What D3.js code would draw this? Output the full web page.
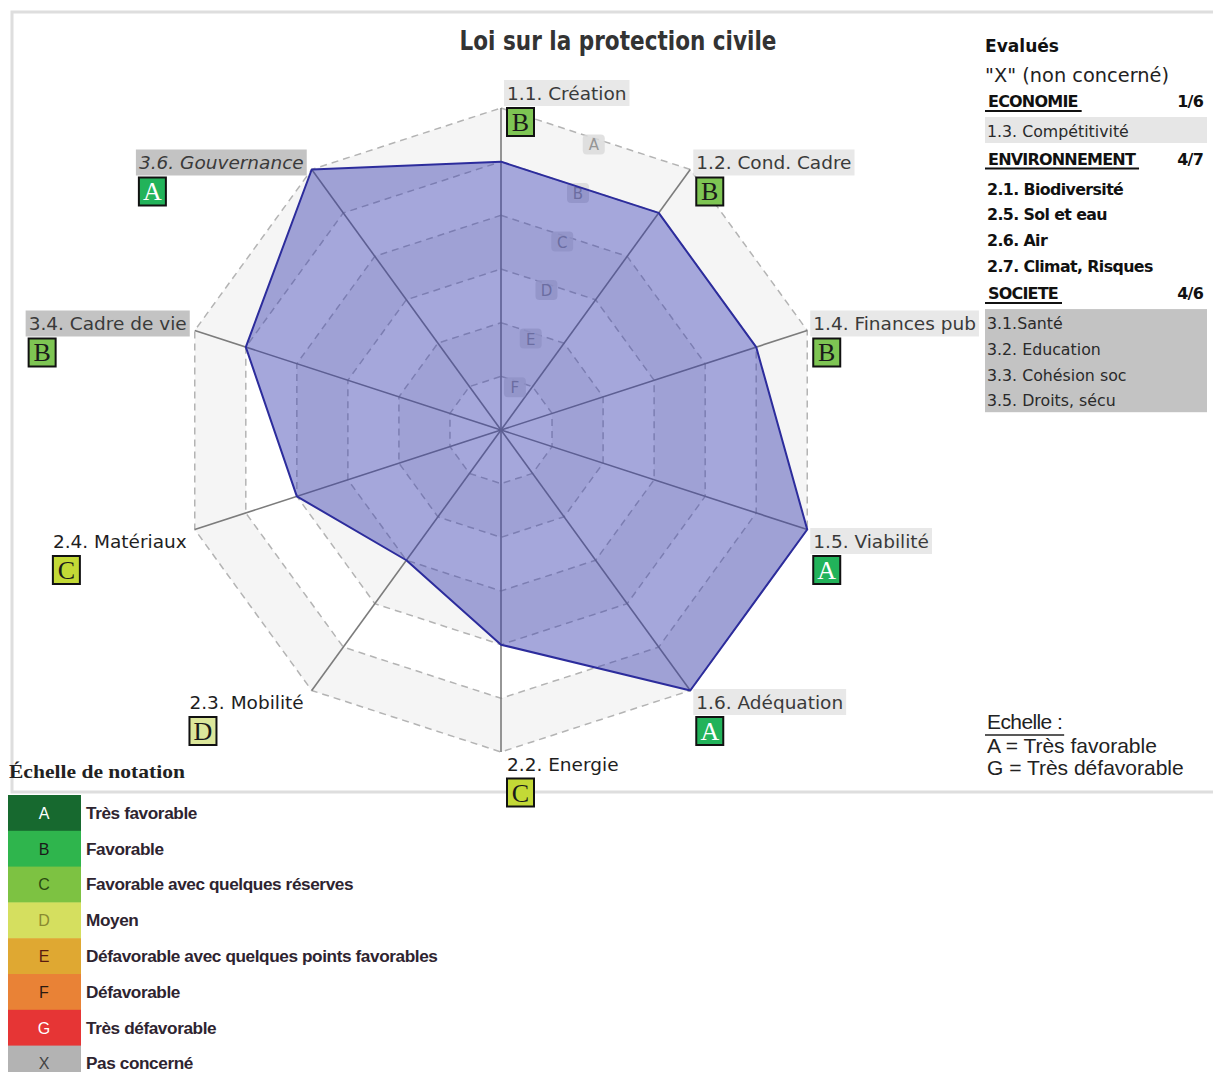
<!DOCTYPE html>
<html lang="fr">
<head>
<meta charset="utf-8">
<title>Loi sur la protection civile</title>
<script src="https://cdn.jsdelivr.net/npm/d3@7"></script>
<style>
  html, body { margin: 0; padding: 0; background: #fff; }
  svg { display: block; }
</style>
</head>
<body>
<svg id="chart" width="1213" height="1072"></svg>
<script>
// ---- data ----
const chartTitle = "Loi sur la protection civile";
const axes = ["1.1. Création", "1.2. Cond. Cadre", "1.4. Finances pub", "1.5. Viabilité",
              "1.6. Adéquation", "2.2. Energie", "2.3. Mobilité", "2.4. Matériaux",
              "3.4. Cadre de vie", "3.6. Gouvernance"];
const grades = ["B", "B", "B", "A", "A", "C", "D", "C", "B", "A"];
const levels = ["G", "F", "E", "D", "C", "B", "A"];          // index = score
const gradeColors = { A: "#22b35a", B: "#7ec553", C: "#c3d936", D: "#dce79b" };
const gradeTextColors = { A: "#ffffff", B: "#1a1a1a", C: "#1a1a1a", D: "#1a1a1a" };

const panelHeader = "Evalués";
const panelNote = "\"X\" (non concerné)";
const sections = ["ECONOMIE", "ENVIRONNEMENT", "SOCIETE"];
const sectionCounts = ["1/6", "4/7", "4/6"];
const sectionItems = [
  ["1.3. Compétitivité"],
  ["2.1. Biodiversité", "2.5. Sol et eau", "2.6. Air", "2.7. Climat, Risques"],
  ["3.1.Santé", "3.2. Education", "3.3. Cohésion soc", "3.5. Droits, sécu"]
];
const scaleTitle = "Echelle :";
const scaleLines = ["A = Très favorable", "G = Très défavorable"];

const legendTitle = "Échelle de notation";
const legendCodes = ["A", "B", "C", "D", "E", "F", "G", "X"];
const legendLabels = ["Très favorable", "Favorable", "Favorable avec quelques réserves", "Moyen",
                      "Défavorable avec quelques points favorables", "Défavorable",
                      "Très défavorable", "Pas concerné"];
const legendColors = ["#17692f", "#2fb54d", "#7dc242", "#d5df5f", "#dfa832", "#e98236", "#e63535", "#b3b3b3"];
const legendTextColors = ["#ffffff", "#1a1a1a", "#2a4a10", "#8a8a30", "#5a1a10", "#2a1a10", "#ffffff", "#444444"];

// background of labels by theme (1 = économie, 2 = environnement, 3 = société)
const themeFill = { "1": "#e8e8e8", "2": "none", "3": "#c3c3c3" };

// ---- layout ----
const svg = d3.select("#chart");
const cx = 501, cy = 430, R = 322;
const n = axes.length;
const r = d3.scaleLinear().domain([0, levels.length - 1]).range([0, R]);
const angle = d3.scaleLinear().domain([0, n]).range([0, 2 * Math.PI]);
const pt = (i, v) => [cx + r(v) * Math.sin(angle(i)), cy - r(v) * Math.cos(angle(i))];
const score = g => levels.indexOf(g);

// frame
const frame = svg.append("g").attr("stroke", "#dedede").attr("stroke-width", 3).attr("fill", "none");
frame.append("path").attr("d", "M1213,12 H12 V792 H1213");

// title
svg.append("text")
  .attr("x", 618).attr("y", 50)
  .attr("text-anchor", "middle")
  .attr("font-family", "DejaVu Sans, sans-serif")
  .attr("font-weight", "bold").attr("font-size", 27)
  .attr("fill", "#333")
  .attr("textLength", 317).attr("lengthAdjust", "spacingAndGlyphs")
  .text(chartTitle);

// ---- radar grid ----
const grid = svg.append("g");
const ringLevels = d3.range(levels.length - 1, 0, -1);   // 6 .. 1
const ringPath = k => "M" + d3.range(n).map(i => pt(i, k).join(",")).join("L") + "Z";

grid.selectAll("path.band").data(ringLevels).join("path")
  .attr("class", "band")
  .attr("d", ringPath)
  .attr("fill", k => (k % 2 === 0 ? "#f5f5f5" : "#ffffff"));

grid.selectAll("path.ring").data(ringLevels).join("path")
  .attr("class", "ring")
  .attr("d", ringPath)
  .attr("fill", "none")
  .attr("stroke", "#b4b4b4").attr("stroke-width", 1.5)
  .attr("stroke-dasharray", "7,5");

grid.selectAll("line.spoke").data(d3.range(n)).join("line")
  .attr("class", "spoke")
  .attr("x1", cx).attr("y1", cy)
  .attr("x2", i => pt(i, levels.length - 1)[0])
  .attr("y2", i => pt(i, levels.length - 1)[1])
  .attr("stroke", "#7c7c7c").attr("stroke-width", 1.6);

// ring letters, placed along the bisector of the first sector
const bis = Math.PI / n;
const ringLabels = grid.selectAll("g.rl").data(ringLevels).join("g")
  .attr("class", "rl")
  .attr("transform", k => {
    const d = r(k) * Math.cos(bis) - 6;
    return `translate(${cx + d * Math.sin(bis)},${cy - d * Math.cos(bis)})`;
  });
ringLabels.append("rect")
  .attr("x", -11).attr("y", -10).attr("width", 22).attr("height", 20).attr("rx", 4)
  .attr("fill", "#dadada").attr("opacity", 0.8);
ringLabels.append("text")
  .attr("text-anchor", "middle").attr("dy", 6)
  .attr("font-family", "DejaVu Sans, sans-serif").attr("font-size", 15)
  .attr("fill", "#959595")
  .text(k => levels[k]);

// ---- series polygon ----
const series = grades.map((g, i) => pt(i, score(g)));
svg.append("path")
  .attr("d", d3.line().curve(d3.curveLinearClosed)(series))
  .attr("fill", "rgb(56,60,176)").attr("fill-opacity", 0.45)
  .attr("stroke", "#2c2c9c").attr("stroke-width", 2).attr("stroke-linejoin", "round");

// ---- axis labels and grade boxes ----
const labels = svg.append("g");
axes.forEach((name, i) => {
  const [vx, vy] = pt(i, levels.length - 1);
  const a = angle(i);
  const right = Math.sin(a) > -0.01;
  const c = Math.cos(a);
  const by = c > 0.95 ? vy - 8 : (c > 0 ? vy : vy + 18.5);
  const tx = right ? vx + 6 : vx - 8;
  const theme = name[0];
  const g = labels.append("g");
  const bg = g.append("rect");
  const t = g.append("text")
    .attr("x", tx).attr("y", by)
    .attr("text-anchor", right ? "start" : "end")
    .attr("font-family", "DejaVu Sans, sans-serif").attr("font-size", 18.5)
    .attr("fill", theme === "2" ? "#1e1e1e" : "#3a3a3a")
    .attr("font-style", name.includes("Gouvernance") ? "italic" : "normal")
    .text(name);
  const w = t.node().getComputedTextLength();
  const left = right ? tx : tx - w;
  bg.attr("x", left - 3).attr("y", by - 20).attr("width", w + 6).attr("height", 26)
    .attr("fill", themeFill[theme]);
  const gr = grades[i];
  const box = g.append("g").attr("transform", `translate(${left - 1},${by + 7})`);
  box.append("rect")
    .attr("x", 1).attr("y", 1).attr("width", 27).attr("height", 28)
    .attr("fill", gradeColors[gr]).attr("stroke", "#111").attr("stroke-width", 2);
  box.append("text")
    .attr("x", 14.5).attr("y", 24)
    .attr("text-anchor", "middle")
    .attr("font-family", "Liberation Serif, DejaVu Serif, serif").attr("font-size", 26)
    .attr("fill", gradeTextColors[gr])
    .text(gr);
});

// ---- right panel ----
const panel = svg.append("g").attr("font-family", "DejaVu Sans, sans-serif").attr("fill", "#111");
panel.append("text").attr("x", 985).attr("y", 52)
  .attr("font-weight", "bold").attr("font-size", 18)
  .attr("textLength", 74).attr("lengthAdjust", "spacingAndGlyphs")
  .text(panelHeader);
panel.append("text").attr("x", 985).attr("y", 82)
  .attr("font-size", 19).attr("fill", "#222")
  .attr("textLength", 184).attr("lengthAdjust", "spacingAndGlyphs")
  .text(panelNote);

const itemFill = ["#e6e6e6", "none", "#c3c3c3"];
let yCur = 107;
sections.forEach((s, si) => {
  const h = panel.append("text").attr("x", 988).attr("y", yCur)
    .attr("font-weight", "bold").attr("font-size", 16)
    .attr("letter-spacing", -0.8)
    .text(s);
  const hw = h.node().getComputedTextLength();
  panel.append("line").attr("x1", 985).attr("x2", 988 + hw + 4)
    .attr("y1", yCur + 4).attr("y2", yCur + 4)
    .attr("stroke", "#111").attr("stroke-width", 2);
  panel.append("text").attr("x", 1203).attr("y", yCur)
    .attr("text-anchor", "end").attr("font-weight", "bold").attr("font-size", 16)
    .attr("letter-spacing", -0.8)
    .text(sectionCounts[si]);
  const first = yCur + 30;
  const items = sectionItems[si];
  const last = first + (items.length - 1) * 25.7;
  panel.append("rect").attr("x", 985).attr("y", first - 20)
    .attr("width", 222).attr("height", last - first + 26)
    .attr("fill", itemFill[si]);
  items.forEach((it, k) => {
    panel.append("text").attr("x", 987).attr("y", first + k * 25.7)
      .attr("font-size", 15.8)
      .attr("font-weight", si === 1 ? "bold" : "normal")
      .attr("letter-spacing", si === 1 ? -0.6 : 0)
      .attr("fill", si === 1 ? "#111" : "#2a2a2a")
      .text(it);
  });
  yCur = last + 27.5;
});

// scale reminder (bottom right)
const sc = svg.append("g").attr("font-family", "Liberation Sans, Arial, sans-serif").attr("fill", "#222").attr("font-size", 21);
const st = sc.append("text").attr("x", 987).attr("y", 729).attr("letter-spacing", -0.6).text(scaleTitle);
sc.append("line").attr("x1", 985).attr("x2", 987 + st.node().getComputedTextLength() + 2)
  .attr("y1", 735).attr("y2", 735).attr("stroke", "#222").attr("stroke-width", 1.5);
sc.selectAll("text.sl").data(scaleLines).join("text")
  .attr("class", "sl")
  .attr("x", 987).attr("y", (d, i) => 753 + i * 22)
  .text(d => d);

// ---- rating legend (bottom left) ----
svg.append("text").attr("x", 9).attr("y", 778)
  .attr("font-family", "Liberation Serif, serif").attr("font-weight", "bold")
  .attr("font-size", 19).attr("fill", "#222")
  .attr("textLength", 176).attr("lengthAdjust", "spacingAndGlyphs")
  .text(legendTitle);

const rowH = 35.8, row0 = 795;
const rows = svg.append("g").selectAll("g").data(legendCodes).join("g")
  .attr("transform", (d, i) => `translate(0,${row0 + i * rowH})`);
rows.append("rect")
  .attr("x", 8).attr("y", 0).attr("width", 73).attr("height", rowH + 0.5)
  .attr("fill", (d, i) => legendColors[i]);
rows.append("text")
  .attr("x", 44).attr("y", rowH / 2 + 6)
  .attr("text-anchor", "middle")
  .attr("font-family", "Liberation Sans, Arial, sans-serif").attr("font-size", 16)
  .attr("fill", (d, i) => legendTextColors[i])
  .text(d => d);
rows.append("text")
  .attr("x", 86).attr("y", rowH / 2 + 6)
  .attr("font-family", "Liberation Sans, Arial, sans-serif").attr("font-weight", "bold")
  .attr("font-size", 17.2).attr("letter-spacing", -0.4)
  .attr("fill", "#2e2430")
  .text((d, i) => legendLabels[i]);
</script>
</body>
</html>
